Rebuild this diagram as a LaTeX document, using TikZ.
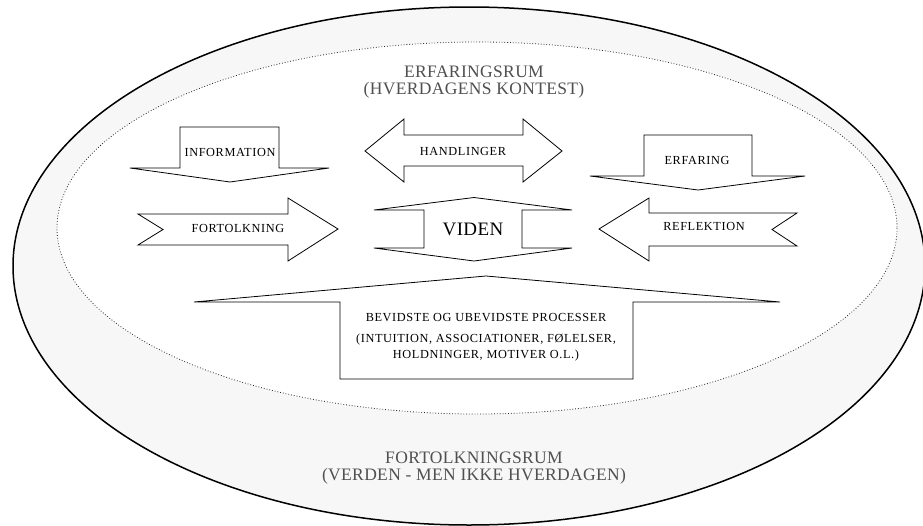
\documentclass[tikz,border=0pt]{standalone}
\usepackage{fontspec}
\setmainfont{Liberation Serif}
\newfontfamily\labfont[LetterSpace=5]{Liberation Serif}
\newfontfamily\bigfont[LetterSpace=2]{Liberation Serif}
\definecolor{ringgray}{HTML}{F7F7F7}
\definecolor{titlegray}{HTML}{505050}
\tikzset{
  arrowshape/.style={draw=black, fill=white, line width=0.8pt, line join=miter},
  lab/.style={font=\labfont\fontsize{12.3}{14}\selectfont, text=black, inner sep=0pt},
  bigtitle/.style={font=\bigfont\fontsize{17.5}{20}\selectfont, text=titlegray, inner sep=0pt},
}
\begin{document}
\begin{tikzpicture}[x=1pt,y=-1pt]
\useasboundingbox (0,0) rectangle (923,525);
% outer space
\fill[ringgray] (469,266) ellipse [x radius=456, y radius=259];
\draw[black, line width=1.5pt] (469,266) ellipse [x radius=456, y radius=259];
% inner space
\fill[white] (477,228) ellipse [x radius=420, y radius=186];
\draw[black!85, line width=0.8pt, dotted] (477,228) ellipse [x radius=420, y radius=186];

% titles
\node[bigtitle] (t1) at (474,71.5) {ERFARINGSRUM};
\node[bigtitle] (t2) at (474,90) {(HVERDAGENS KONTEST)};
\node[bigtitle] (t3) at (474,458) {FORTOLKNINGSRUM};
\node[bigtitle] (t4) at (474,476) {(VERDEN - MEN IKKE HVERDAGEN)};

% INFORMATION
\draw[arrowshape] (180,127) -- (279,127) -- (279,168) -- (329,168) -- (230,182) -- (130,168) -- (180,168) -- cycle;
\node[lab] (info) at (230,152.5) {INFORMATION};

% HANDLINGER
\draw[arrowshape] (365,151) -- (404,119) -- (404,135) -- (523,135) -- (523,119) -- (562,151) -- (523,182) -- (523,166) -- (404,166) -- (404,182) -- cycle;
\node[lab] (hand) at (463,151) {HANDLINGER};

% ERFARING
\draw[arrowshape] (644,135) -- (752,135) -- (752,176) -- (805,176) -- (698,190) -- (590,176) -- (644,176) -- cycle;
\node[lab] (erf) at (697,160) {ERFARING};

% FORTOLKNING
\draw[arrowshape] (138,214) -- (288,214) -- (288,198) -- (338,229) -- (288,261) -- (288,245) -- (138,245) -- (163,229.5) -- cycle;
\node[lab] (fort) at (238,228.5) {FORTOLKNING};

% REFLEKTION
\draw[arrowshape] (599,229) -- (649,198) -- (649,213) -- (797,213) -- (772,229.5) -- (797,246) -- (649,246) -- (649,261) -- cycle;
\node[lab] (refl) at (704,226.5) {REFLEKTION};

% VIDEN
\draw[arrowshape] (474,197.5) -- (572,210) -- (522,210) -- (522,248) -- (572,248) -- (474,261) -- (374,248) -- (424,248) -- (424,210) -- (374,210) -- cycle;
\node[font=\bigfont\fontsize{19}{22}\selectfont, text=black, inner sep=0pt] (viden) at (473,229.5) {VIDEN};

% BEVIDSTE
\draw[arrowshape] (486,276) -- (780,302) -- (633,302) -- (633,379) -- (340,379) -- (340,302) -- (194,302) -- cycle;
\node[lab] (bev1) at (486,317.5) {BEVIDSTE OG UBEVIDSTE PROCESSER};
\node[lab] (bev2) at (486,340) {(INTUITION, ASSOCIATIONER, FØLELSER,};
\node[lab] (bev3) at (486,356) {HOLDNINGER, MOTIVER O.L.)};
\end{tikzpicture}
\end{document}
